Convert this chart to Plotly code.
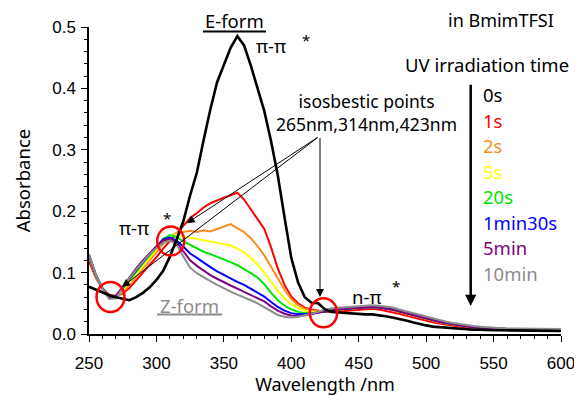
import plotly.graph_objects as go

# ---------------- data ----------------
wavelength = list(range(250, 601, 5))

tail_common = [0.037, 0.039, 0.040, 0.041, 0.042, 0.043, 0.044, 0.044, 0.043, 0.042, 0.040, 0.037,
               0.034, 0.031, 0.028, 0.025, 0.022, 0.020, 0.018, 0.016, 0.014, 0.013, 0.011, 0.010,
               0.010, 0.009, 0.009, 0.008, 0.008, 0.008, 0.008, 0.007, 0.008, 0.007, 0.007, 0.007]

abs_0s = [0.077, 0.072, 0.067, 0.063, 0.060, 0.057, 0.055, 0.060, 0.067, 0.076, 0.088, 0.103, 0.126,
          0.154, 0.184, 0.226, 0.263, 0.316, 0.366, 0.410, 0.438, 0.466, 0.485, 0.470, 0.437, 0.402,
          0.363, 0.314, 0.258, 0.190, 0.124, 0.084, 0.060, 0.051, 0.050, 0.040, 0.036, 0.035, 0.034,
          0.033, 0.033, 0.032, 0.032, 0.031, 0.029, 0.027, 0.025, 0.022, 0.019, 0.016, 0.014, 0.012,
          0.011, 0.010, 0.009, 0.008, 0.008, 0.007, 0.007, 0.006, 0.006, 0.006, 0.006, 0.005, 0.005,
          0.005, 0.005, 0.005, 0.005, 0.005, 0.005]

abs_1s = [0.118, 0.092, 0.074, 0.064, 0.062, 0.066, 0.075, 0.087, 0.100, 0.113, 0.125, 0.139, 0.152,
          0.164, 0.176, 0.189, 0.197, 0.206, 0.213, 0.218, 0.222, 0.226, 0.230, 0.219, 0.203, 0.188,
          0.171, 0.141, 0.107, 0.080, 0.061, 0.050, 0.043, 0.040, 0.038, 0.036, 0.036, 0.037, 0.038,
          0.039, 0.040, 0.041, 0.041, 0.040, 0.038, 0.036, 0.033, 0.030, 0.027, 0.024, 0.021, 0.019,
          0.017, 0.015, 0.013, 0.012, 0.010, 0.010, 0.009, 0.008, 0.008, 0.008, 0.007, 0.007, 0.007,
          0.007, 0.007, 0.007, 0.006, 0.007, 0.007]

abs_2s = [0.125, 0.094, 0.075, 0.062, 0.061, 0.069, 0.080, 0.094, 0.107, 0.120, 0.133, 0.147, 0.158,
          0.165, 0.166, 0.168, 0.166, 0.169, 0.167, 0.171, 0.176, 0.179, 0.172, 0.166, 0.156, 0.143,
          0.128, 0.110, 0.090, 0.072, 0.057, 0.047, 0.041, 0.038, 0.036,
          0.036, 0.038, 0.040, 0.041, 0.042, 0.043, 0.044, 0.044, 0.043, 0.041, 0.039, 0.036, 0.033,
          0.030, 0.027, 0.024, 0.022, 0.019, 0.017, 0.016, 0.014, 0.012, 0.011, 0.010, 0.009, 0.009,
          0.008, 0.008, 0.008, 0.007, 0.008, 0.007, 0.007, 0.007, 0.007, 0.007]

abs_5s = [0.127, 0.095, 0.074, 0.061, 0.061, 0.071, 0.084, 0.098, 0.111, 0.124, 0.137, 0.150, 0.159,
          0.162, 0.159, 0.157, 0.154, 0.153, 0.150, 0.148, 0.146, 0.144, 0.139, 0.133, 0.124, 0.113,
          0.100, 0.085, 0.070, 0.058, 0.049, 0.042, 0.038, 0.036, 0.036] + tail_common

abs_20s = [0.128, 0.096, 0.074, 0.061, 0.062, 0.074, 0.088, 0.102, 0.115, 0.128, 0.141, 0.155, 0.161,
           0.158, 0.151, 0.145, 0.139, 0.134, 0.130, 0.126, 0.122, 0.117, 0.112, 0.106, 0.099, 0.092,
           0.081, 0.067, 0.055, 0.046, 0.040, 0.036, 0.034, 0.034, 0.035] + tail_common

abs_1m30s = [0.128, 0.096, 0.074, 0.060, 0.062, 0.075, 0.090, 0.104, 0.117, 0.130, 0.142, 0.154, 0.157,
             0.152, 0.142, 0.131, 0.124, 0.116, 0.109, 0.102, 0.096, 0.090, 0.085, 0.080, 0.074, 0.068,
             0.061, 0.052, 0.044, 0.038, 0.034, 0.032, 0.032, 0.033, 0.035] + tail_common

abs_5min = [0.129, 0.097, 0.074, 0.059, 0.062, 0.077, 0.093, 0.107, 0.120, 0.132, 0.143, 0.152, 0.155,
            0.149, 0.134, 0.120, 0.111, 0.103, 0.096, 0.090, 0.084, 0.079, 0.074, 0.069, 0.064, 0.059,
            0.053, 0.045, 0.038, 0.033, 0.030, 0.029, 0.030, 0.032, 0.035] + tail_common

abs_10min = [0.130, 0.097, 0.073, 0.057, 0.058, 0.075, 0.091, 0.105, 0.118, 0.130, 0.140, 0.148, 0.152,
             0.146, 0.126, 0.108, 0.099, 0.092, 0.086, 0.080, 0.074, 0.069, 0.064, 0.060, 0.055, 0.050,
             0.044, 0.037, 0.031, 0.028, 0.027, 0.028, 0.030, 0.033, 0.036,
             0.040, 0.042, 0.043, 0.044, 0.045, 0.046, 0.047, 0.047, 0.046, 0.045, 0.043, 0.040, 0.037,
             0.034, 0.031, 0.028, 0.025, 0.023, 0.020, 0.018, 0.016, 0.015, 0.013, 0.012, 0.011, 0.010,
             0.010, 0.009, 0.009, 0.009, 0.009, 0.008, 0.008, 0.008, 0.008, 0.008]

series_labels = ["0s", "1s", "2s", "5s", "20s", "1min30s", "5min", "10min"]
series_values = [abs_0s, abs_1s, abs_2s, abs_5s, abs_20s, abs_1m30s, abs_5min, abs_10min]
series_colors = ["#000000", "#FF0000", "#FF8C1A", "#FFFF00", "#00E600", "#0000FF", "#800080", "#8C8C8C"]

x_tickvals = [250, 300, 350, 400, 450, 500, 550, 600]
x_ticktext = ["250", "300", "350", "400", "450", "500", "550", "600"]
y_tickvals = [0.0, 0.1, 0.2, 0.3, 0.4, 0.5]
y_ticktext = ["0.0", "0.1", "0.2", "0.3", "0.4", "0.5"]

# ---------------- figure ----------------
# the page body adds an 8px offset, so the figure is drawn 8px smaller
OFF = 8
W, H = 582 - OFF, 396 - OFF
ML, MR, MT, MB = 89 - OFF, 21, 27 - OFF, 62
PW, PH = W - ML - MR, H - MT - MB


def px(xp):  # page pixel -> paper fraction
    return (xp - OFF - ML) / PW


def py(yp):
    return (H - MB - (yp - OFF)) / PH


TF = "Noto Sans"
FS = 18.5
fig = go.Figure()

order = [1, 2, 3, 4, 5, 6, 7, 0]
for i in order:
    fig.add_trace(go.Scatter(
        x=wavelength, y=series_values[i], mode="lines", name=series_labels[i],
        line=dict(color=series_colors[i], width=2.6 if i == 0 else 2.0),
        hoverinfo="skip", showlegend=False))

ann = []


def text(t, xx, yc, color="black", size=FS, anchor="center"):
    ann.append(dict(text=t, x=px(xx), y=py(yc), xref="paper", yref="paper",
                    xanchor=anchor, yanchor="middle", showarrow=False, borderpad=0,
                    font=dict(family=TF, size=size, color=color)))


text("in BmimTFSI", 500.5, 20, size=18)
text("UV irradiation time", 487, 64)
leg_y = [94.5, 120, 145.5, 171, 196.5, 222, 247.5, 273]
for lab, col, yy in zip(series_labels, series_colors, leg_y):
    text(lab, 482, yy, color=col, anchor="left")
text("isosbestic points<br>265nm,314nm,423nm", 366, 112.5, size=17.5)
text("E-form", 234.5, 21)
text("π-π", 271, 45)
text("*", 306, 40, size=15)
text("π-π", 133.5, 227)
text("*", 167, 218, size=15)
text("Z-form", 189.5, 305, color="#8C8C8C")
text("n-π", 366, 296)
text("*", 396, 286, size=15)


def arrow(tip, tail, width=1.0, size=1.6):
    ann.append(dict(text="", x=px(tip[0]), y=py(tip[1]), xref="paper", yref="paper",
                    ax=tail[0] - tip[0], ay=tail[1] - tip[1], showarrow=True,
                    arrowhead=2, arrowsize=size, arrowwidth=width, arrowcolor="black"))


arrow((122, 287), (319, 136.5))
arrow((186.7, 223.3), (319, 136.5))
arrow((320, 297), (320, 136.5))
arrow((470.7, 306), (470.7, 83.3), width=2.5, size=0.9)

shapes = []
for (cx, cy, rx, ry) in [(110.5, 297, 14, 15), (170.7, 241, 13.5, 14.5), (323.5, 312.8, 13.7, 14.5)]:
    shapes.append(dict(type="circle", xref="paper", yref="paper", xsizemode="pixel", ysizemode="pixel",
                       xanchor=px(cx), yanchor=py(cy), x0=-rx, x1=rx, y0=-ry, y1=ry,
                       line=dict(color="#FF0000", width=2.5)))
# underlines of the E-form / Z-form labels
for (x0, x1, yy, col) in [(203, 266, 31.5, "black"), (157, 222, 314.5, "#8C8C8C")]:
    shapes.append(dict(type="line", xref="paper", yref="paper", x0=px(x0), x1=px(x1),
                       y0=py(yy), y1=py(yy), line=dict(color=col, width=2)))

fig.update_layout(
    width=W, height=H, margin=dict(l=ML, r=MR, t=MT, b=MB, autoexpand=False),
    plot_bgcolor="white", paper_bgcolor="white",
    annotations=ann, shapes=shapes,
    xaxis=dict(range=[250, 600], tickvals=x_tickvals, ticktext=x_ticktext, automargin=False,
               ticks="outside", ticklen=6, tickwidth=1.2, tickcolor="black", ticklabelstandoff=7,
               showline=True, linecolor="black", linewidth=1.5, showgrid=False, zeroline=False,
               minor=dict(tickvals=list(range(250, 601, 10)), ticks="outside", ticklen=3.5,
                          tickcolor="black", tickwidth=1),
               tickfont=dict(family="Liberation Sans", size=17, color="black"),
               title=dict(text="Wavelength /nm", font=dict(family=TF, size=18, color="black"), standoff=8)),
    yaxis=dict(range=[0, 0.5], tickvals=y_tickvals, ticktext=y_ticktext, automargin=False,
               ticks="outside", ticklen=6, tickwidth=1.2, tickcolor="black", ticklabelstandoff=2,
               showline=True, linecolor="black", linewidth=1.5, showgrid=False, zeroline=False,
               minor=dict(dtick=0.02, ticks="outside", ticklen=3.5, tickcolor="black", tickwidth=1),
               tickfont=dict(family="Liberation Sans", size=17, color="black"),
               title=dict(text="Absorbance", font=dict(family=TF, size=FS, color="black"), standoff=17)),
)

fig.write_html("out.html")
